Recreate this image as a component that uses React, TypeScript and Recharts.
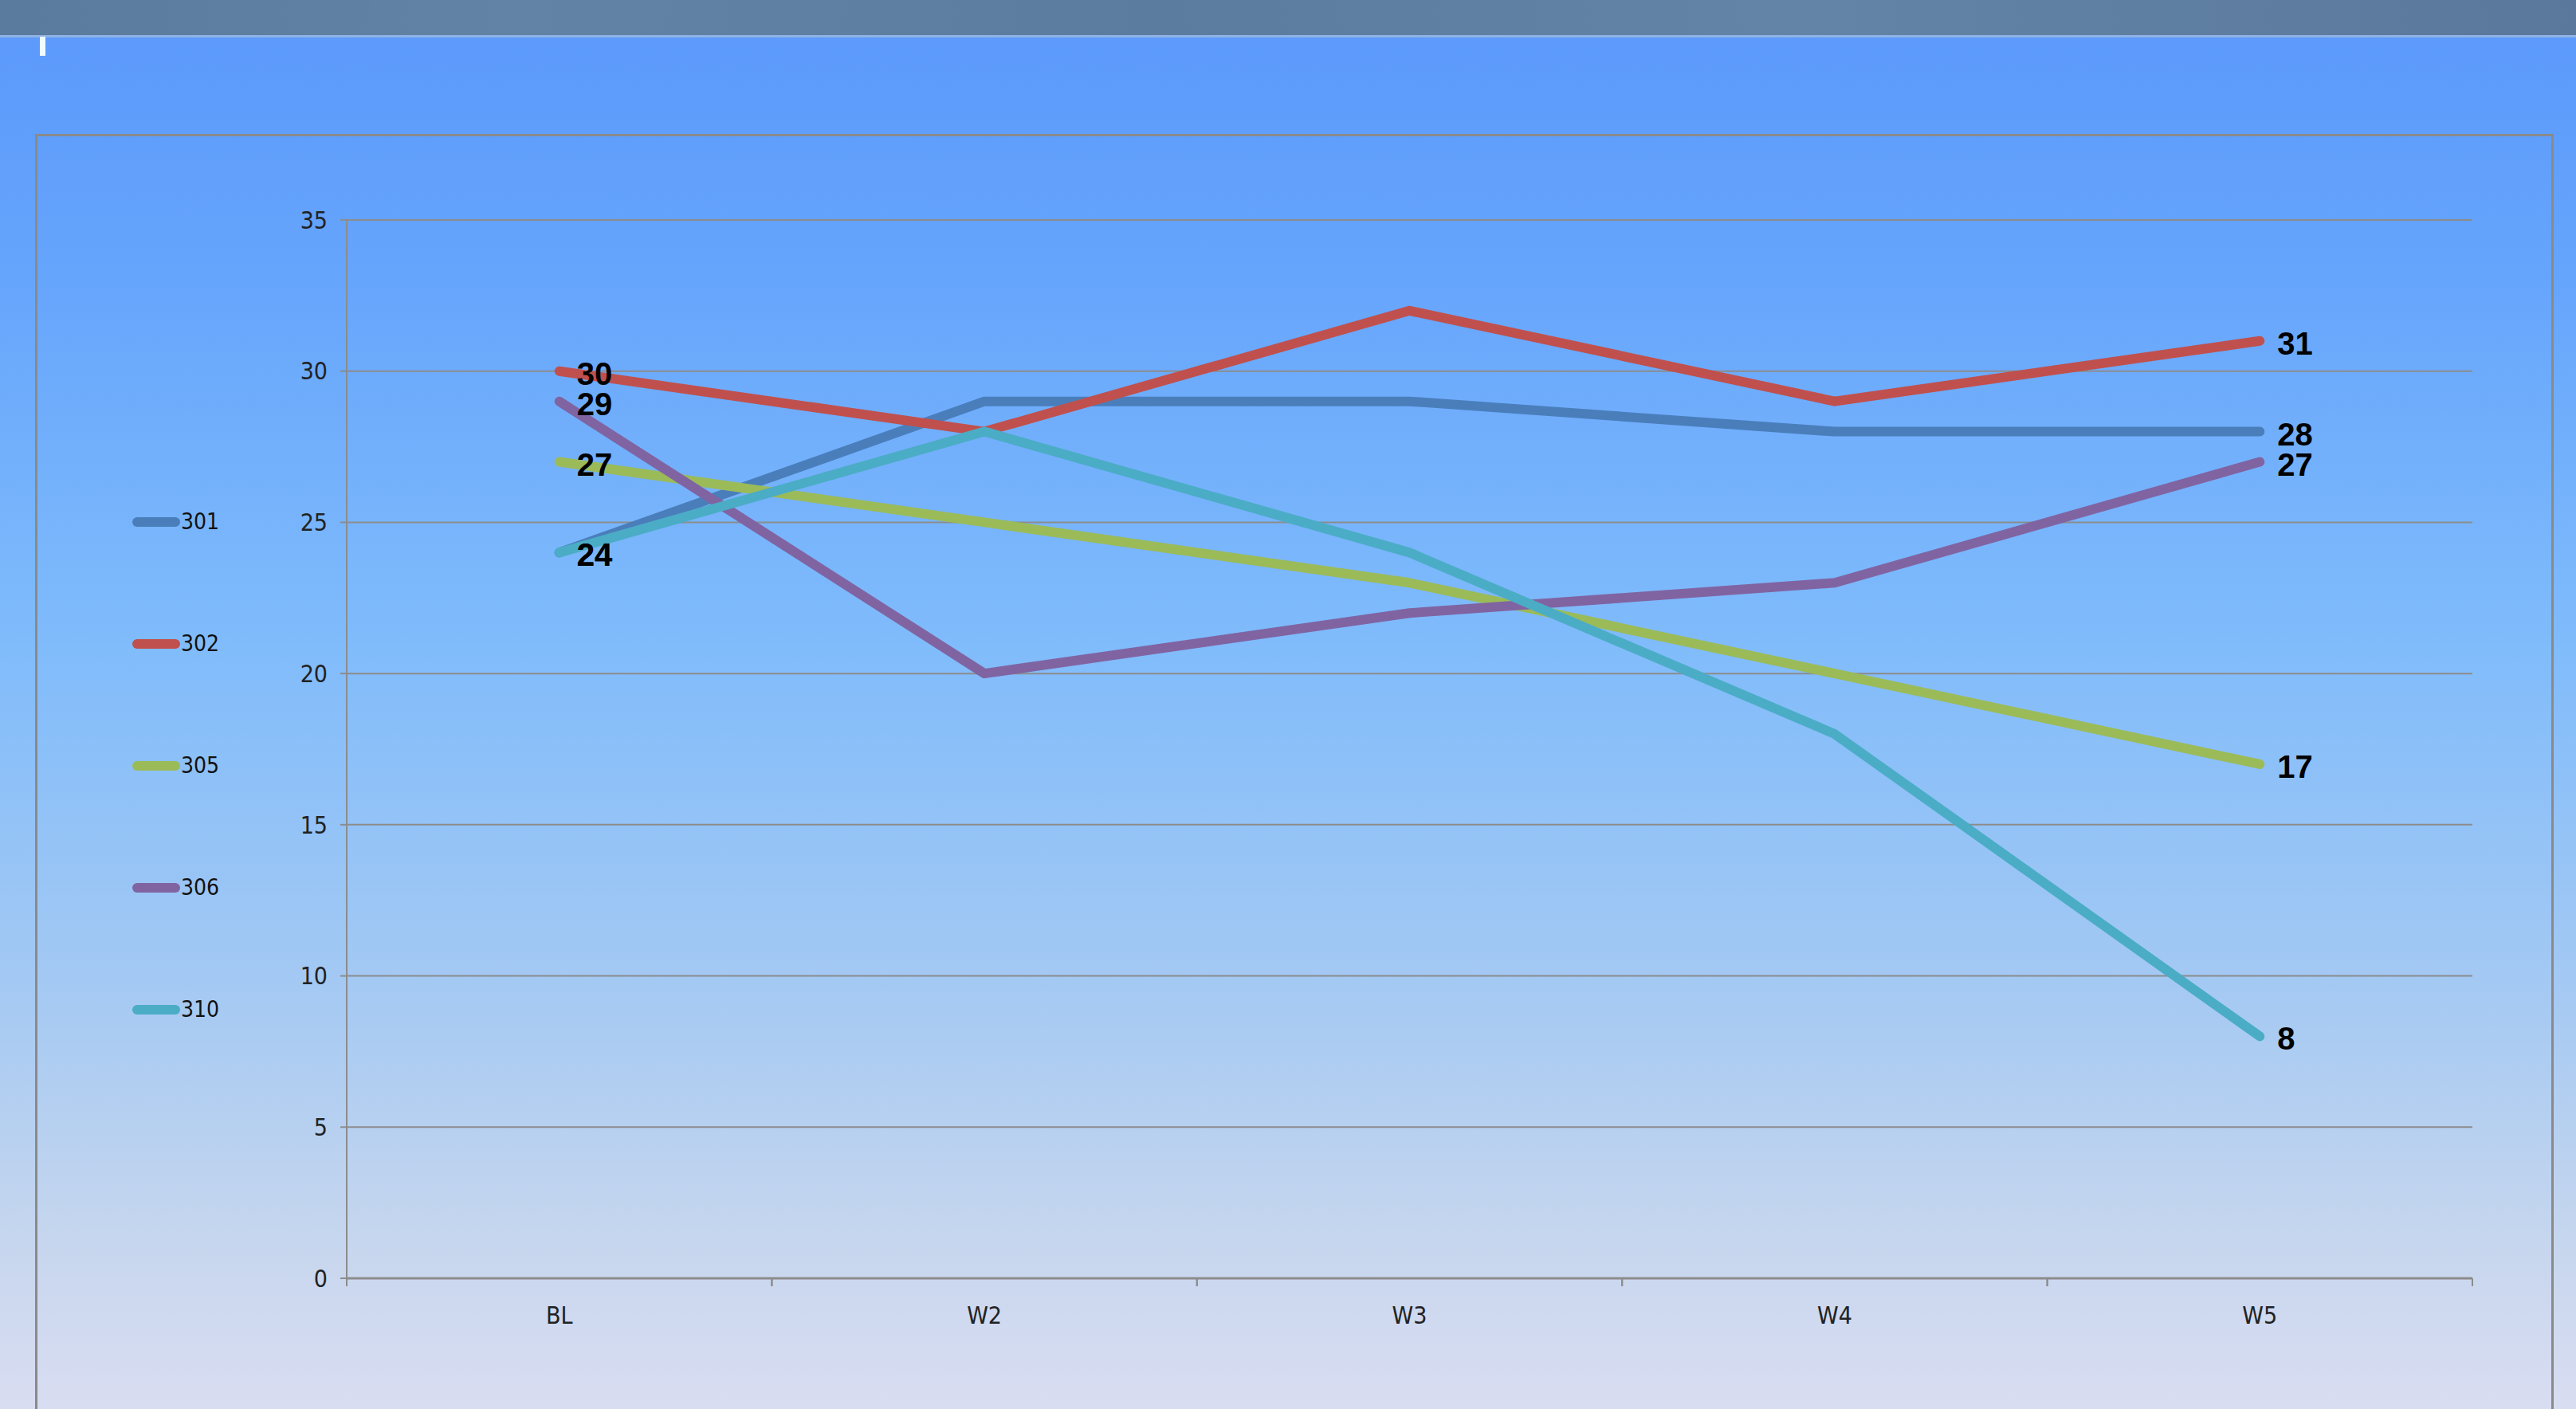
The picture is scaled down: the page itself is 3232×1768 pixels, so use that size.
import React from "react";
import {
  LineChart,
  Line,
  XAxis,
  YAxis,
  CartesianGrid,
  Legend,
} from "recharts";

// week categories along the x axis
const weeks = ["BL", "W2", "W3", "W4", "W5"];

// one array per class
const class301 = [24, 29, 29, 28, 28];
const class302 = [30, 28, 32, 29, 31];
const class305 = [27, 25, 23, 20, 17];
const class306 = [29, 20, 22, 23, 27];
const class310 = [24, 28, 24, 18, 8];

const yTicks = [0, 5, 10, 15, 20, 25, 30, 35];

const series = [
  { key: "c301", name: "301", color: "#4a7ebb", values: class301 },
  { key: "c302", name: "302", color: "#c0504d", values: class302 },
  { key: "c305", name: "305", color: "#9bbb59", values: class305 },
  { key: "c306", name: "306", color: "#8064a2", values: class306 },
  { key: "c310", name: "310", color: "#4bacc6", values: class310 },
];

const data = weeks.map((week, i) => {
  const row: Record<string, any> = { week };
  series.forEach((s) => {
    row[s.key] = s.values[i];
  });
  return row;
});

const W = 3232;
const H = 1768;
const MARGIN = { top: 276, right: 130, bottom: 104, left: 335 };
const Y_AXIS_WIDTH = 100;
const X_AXIS_HEIGHT = 60;
const PLOT_LEFT = MARGIN.left + Y_AXIS_WIDTH;
const PLOT_RIGHT = W - MARGIN.right;
const PLOT_BOTTOM = H - MARGIN.bottom - X_AXIS_HEIGHT;
const BAND = (PLOT_RIGHT - PLOT_LEFT) / weeks.length;

const AXIS_GRAY = "#8c8c8c";
const FONT = '"Liberation Sans", Arial, sans-serif';
const NARROW = '"Liberation Sans Narrow", "DejaVu Sans Condensed", "Liberation Sans", sans-serif';

// category label in the middle of its band, tick marks on the band edges
const WeekTick = ({ x, payload }: any) => (
  <g>
    <line
      x1={x - BAND / 2}
      x2={x - BAND / 2}
      y1={PLOT_BOTTOM}
      y2={PLOT_BOTTOM + 10}
      stroke={AXIS_GRAY}
      strokeWidth={2}
    />
    <line
      x1={x + BAND / 2}
      x2={x + BAND / 2}
      y1={PLOT_BOTTOM}
      y2={PLOT_BOTTOM + 10}
      stroke={AXIS_GRAY}
      strokeWidth={2}
    />
    <text
      x={x}
      y={PLOT_BOTTOM + 46}
      textAnchor="middle"
      dominantBaseline="central"
      fontFamily={NARROW}
      fontSize={30}
      fill="#222"
    >
      {payload.value}
    </text>
  </g>
);

// value labels only at the first and last week
const endLabel = (props: any) => {
  const { x, y, value, index } = props;
  if (index !== 0 && index !== weeks.length - 1) return <g />;
  return (
    <text
      x={x + 22}
      y={y + 3}
      dominantBaseline="central"
      fontFamily={FONT}
      fontWeight="bold"
      fontSize={40}
      fill="#000"
    >
      {value}
    </text>
  );
};

const SideLegend = ({ payload }: any) => (
  <div>
    {(payload || []).map((entry: any) => (
      <div
        key={entry.value}
        style={{ height: 153, display: "flex", alignItems: "center" }}
      >
        <div
          style={{
            width: 60,
            height: 12,
            borderRadius: 6,
            backgroundColor: entry.color,
          }}
        />
        <span
          style={{
            fontFamily: NARROW,
            fontSize: 28,
            color: "#111",
            marginLeft: 1,
          }}
        >
          {entry.value}
        </span>
      </div>
    ))}
  </div>
);

export default function App() {
  return (
    <div
      style={{
        position: "fixed",
        left: 0,
        top: 0,
        width: W,
        height: H,
        overflow: "hidden",
        background:
          "linear-gradient(180deg, #5b98fb 0%, #66a5fc 20%, #7fbbfb 45%, #a4c9f3 70%, #c6d6ee 88%, #d9ddf1 100%)",
      }}
    >
      {/* header strip */}
      <div
        style={{
          position: "absolute",
          left: 0,
          top: 0,
          width: W,
          height: 44,
          background:
            "linear-gradient(90deg, #5a7a9e, #6282a6 20%, #5c7c9f 45%, #6384a6 70%, #5a789c)",
          borderBottom: "3px solid #8fb2e6",
        }}
      />
      <div
        style={{
          position: "absolute",
          left: 50,
          top: 46,
          width: 7,
          height: 24,
          background: "#eefcff",
        }}
      />
      {/* chart frame */}
      <div
        style={{
          position: "absolute",
          left: 44,
          top: 168,
          width: 3154,
          height: 1700,
          border: "3px solid #8a8a8a",
        }}
      />
      <div style={{ position: "absolute", left: 0, top: 0 }}>
        <LineChart width={W} height={H} data={data} margin={MARGIN}>
          <CartesianGrid
            vertical={false}
            stroke={AXIS_GRAY}
            strokeWidth={2}
          />
          <XAxis
            dataKey="week"
            height={X_AXIS_HEIGHT}
            padding={{ left: BAND / 2, right: BAND / 2 }}
            axisLine={{ stroke: AXIS_GRAY, strokeWidth: 3 }}
            tickLine={false}
            tick={<WeekTick />}
            interval={0}
          />
          <YAxis
            width={Y_AXIS_WIDTH}
            domain={[0, 35]}
            ticks={yTicks}
            interval={0}
            axisLine={{ stroke: AXIS_GRAY, strokeWidth: 2 }}
            tickLine={{ stroke: AXIS_GRAY, strokeWidth: 2 }}
            tickSize={8}
            tickMargin={16}
            tick={{ fontFamily: NARROW, fontSize: 30, fill: "#222" }}
          />
          <Legend
            layout="vertical"
            align="center"
            verticalAlign="middle"
            wrapperStyle={{ left: 166, top: 578, width: 140 }}
            content={<SideLegend />}
          />
          {series.map((s) => (
            <Line
              key={s.key}
              type="linear"
              dataKey={s.key}
              name={s.name}
              stroke={s.color}
              strokeWidth={12}
              strokeLinecap="round"
              strokeLinejoin="round"
              dot={false}
              activeDot={false}
              label={endLabel}
              isAnimationActive={false}
            />
          ))}
        </LineChart>
      </div>
    </div>
  );
}
